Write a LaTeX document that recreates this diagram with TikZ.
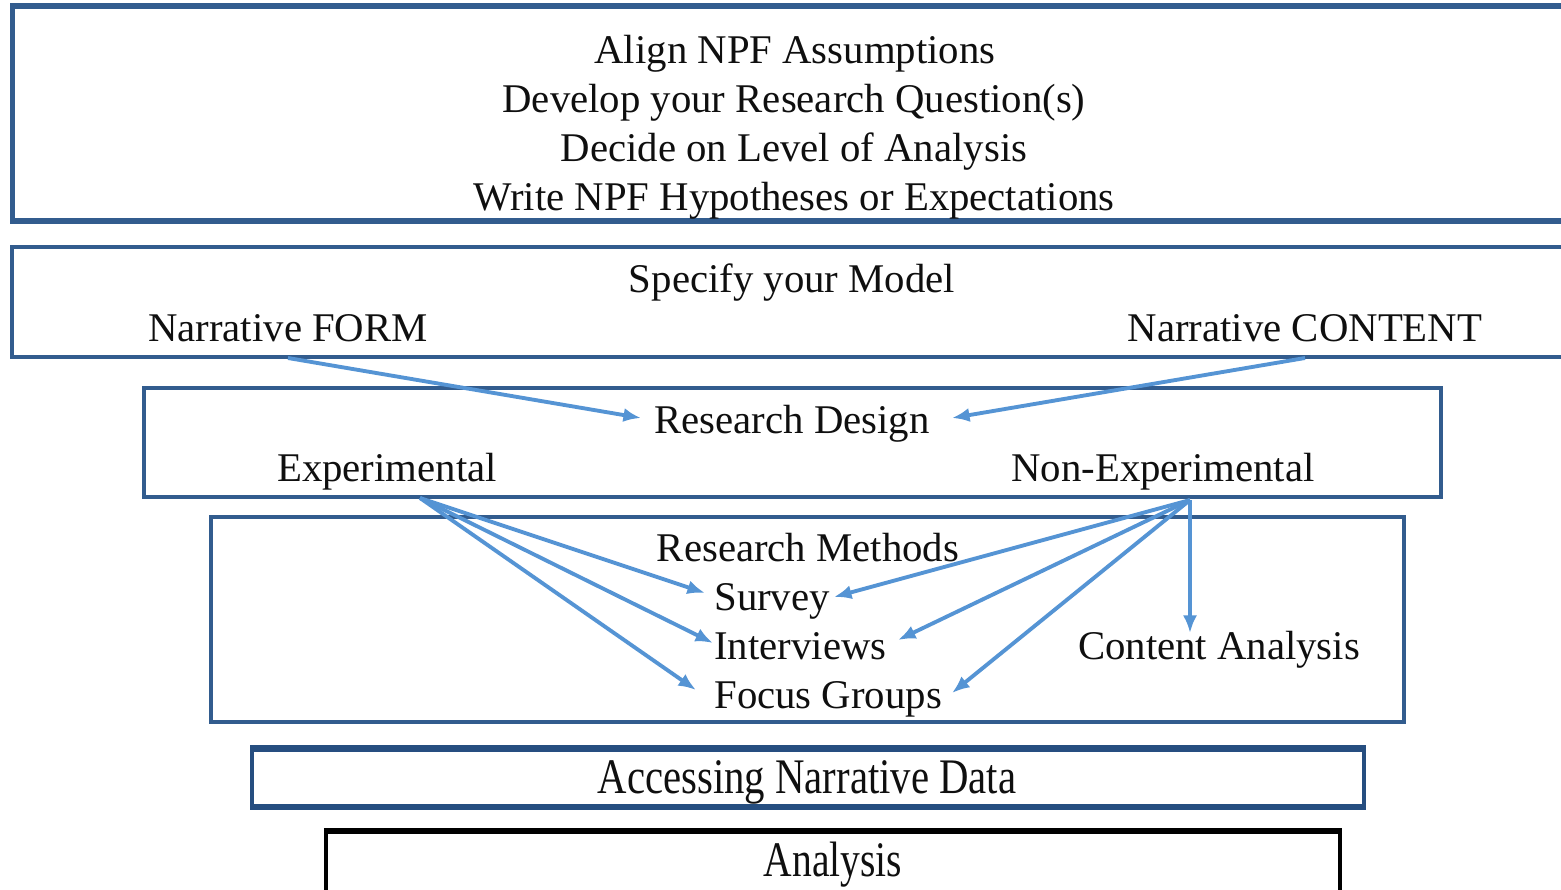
\documentclass[tikz,border=0pt]{standalone}
\usepackage{fontspec}
\setmainfont{Liberation Serif}
\usetikzlibrary{arrows.meta}
\definecolor{boxblue}{RGB}{50,92,142}
\definecolor{boxdark}{RGB}{38,78,128}
\definecolor{arrblue}{RGB}{85,148,212}
\definecolor{txt}{RGB}{15,15,15}
\begin{document}
\begin{tikzpicture}[x=0.02cm,y=-0.02cm,
  box/.style={draw=boxblue, rectangle, inner sep=0},
  lbl/.style={font=\fontsize{23.2}{27.8}\selectfont, text=txt, inner sep=0, anchor=base},
  lblw/.style={lbl, anchor=base west},
  arr/.style={draw=arrblue, line width=2.2pt, -{Latex[length=10pt,width=8pt]}}]
\useasboundingbox (0,0) rectangle (1561,889);
\begin{scope}
\clip (0,0) rectangle (1561,889);
% boxes
\node[box, line width=3pt, minimum width=31.26cm, minimum height=4.3cm] (b1) at (793.5,113.5) {};
\node[box, line width=2.6pt, minimum width=31.26cm, minimum height=2.2cm] (b2) at (793.5,302) {};
\node[box, line width=2.6pt, minimum width=25.94cm, minimum height=2.18cm] (b3) at (792.5,442.5) {};
\node[box, line width=2.6pt, minimum width=23.86cm, minimum height=4.1cm] (b4) at (807.5,619.5) {};
\node[box, draw=boxdark, line width=2pt, minimum width=22.24cm, minimum height=1.16cm] (b5) at (808,777) {};
\draw[boxdark, line width=4pt] ([yshift=-1pt]b5.north west) -- ([yshift=-1pt]b5.north east);
\draw[boxdark, line width=3pt] ([yshift=0.5pt]b5.south west) -- ([yshift=0.5pt]b5.south east);
\node[box, draw=black, line width=2.4pt, minimum width=20.28cm, minimum height=1.36cm] (b6) at (833,866) {};
\draw[black, line width=3.2pt] ([yshift=-0.4pt]b6.north west) -- ([yshift=-0.4pt]b6.north east);
\end{scope}
% texts
\node[lbl] (a1) at (795,63) {Align NPF Assumptions};
\node[lbl] (a2) at (794,112) {Develop your Research Question(s)};
\node[lbl] (a3) at (794,161) {Decide on Level of Analysis};
\node[lbl] (a4) at (794,210) {Write NPF Hypotheses or Expectations};
\node[lbl] (spec) at (792,292) {Specify your Model};
\node[lbl] (form) at (288,341) {Narrative FORM};
\node[lbl] (content) at (1305,341) {Narrative CONTENT};
\node[lbl] (rd) at (792,433) {Research Design};
\node[lbl] (exp) at (387,481) {Experimental};
\node[lbl] (nexp) at (1163,481) {Non-Experimental};
\node[lbl] (rm) at (808,561) {Research Methods};
\node[lblw] (survey) at (714,610) {Survey};
\node[lblw] (interv) at (714,659) {Interviews};
\node[lblw] (focus) at (714,708) {Focus Groups};
\node[lbl] (ca) at (1219,659) {Content Analysis};
\node[lbl] (acc) at (807,793) {\scalebox{1}[1.22]{Accessing Narrative Data}};
\node[lbl] (ana) at (833,876) {\scalebox{0.97}[1.22]{Analysis}};
% connector end points
\coordinate (formout) at (288,358);
\coordinate (contout) at (1305,358);
\coordinate (rdL) at (641,418);
\coordinate (rdR) at (952,418);
\coordinate (expout) at (420,498);
\coordinate (nexout) at (1190,500);
\coordinate (sv1) at (705,593);
\coordinate (iv1) at (713,643);
\coordinate (fg1) at (696,690);
\coordinate (sv2) at (834,597);
\coordinate (iv2) at (898,640);
\coordinate (fg2) at (952,693);
\coordinate (ca1) at (1190,633);
% connectors
\draw[arr] (formout) -- (rdL);
\draw[arr] (contout) -- (rdR);
\draw[arr] (expout) -- (sv1);
\draw[arr] (expout) -- (iv1);
\draw[arr] (expout) -- (fg1);
\draw[arr] (nexout) -- (sv2);
\draw[arr] (nexout) -- (iv2);
\draw[arr] (nexout) -- (fg2);
\draw[arr] (nexout) -- (ca1);
\end{tikzpicture}
\end{document}
